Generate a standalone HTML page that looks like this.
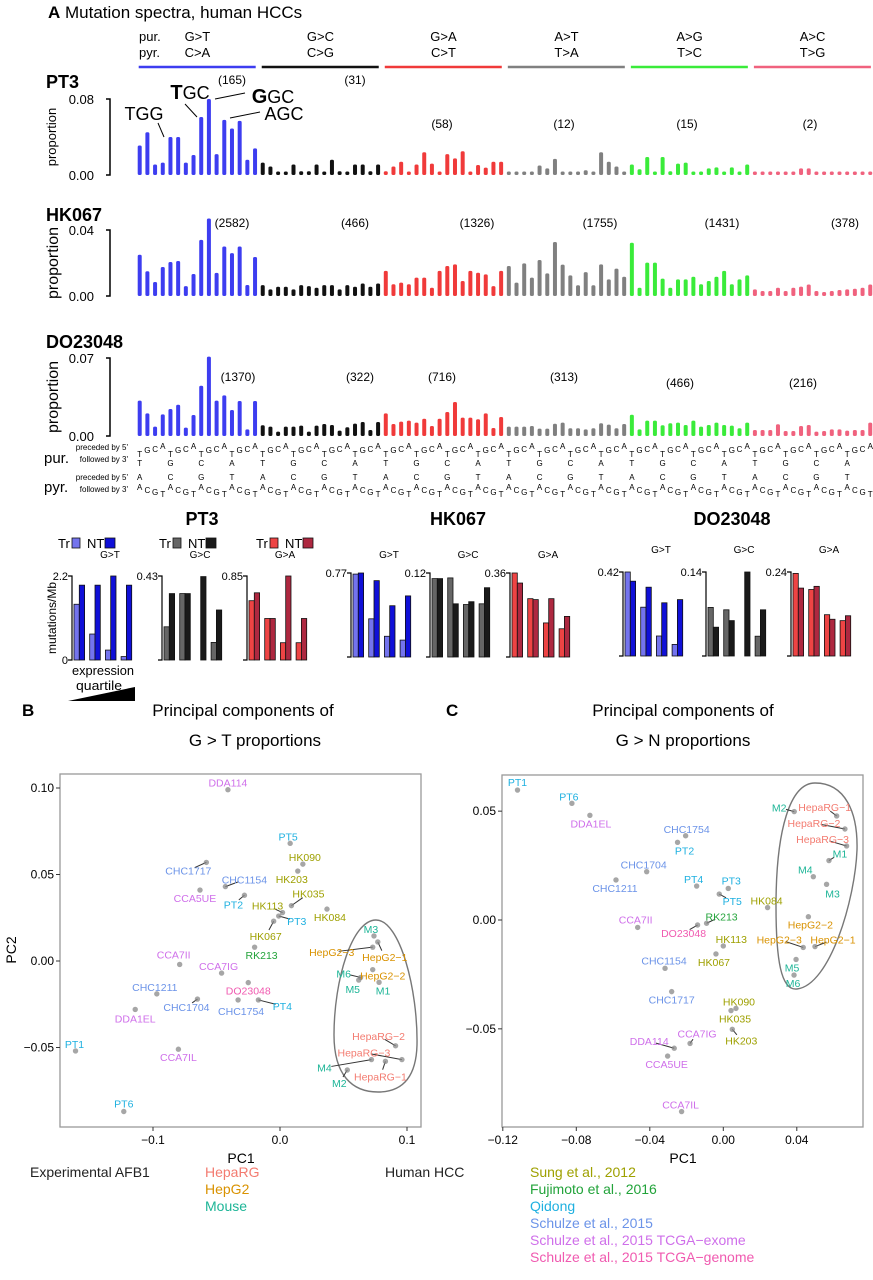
<!DOCTYPE html>
<html><head><meta charset="utf-8">
<style>
html,body{margin:0;padding:0;background:#fff;}
svg{display:block;font-family:"Liberation Sans",sans-serif;}
.n{font-family:"Liberation Sans Narrow","Liberation Sans",sans-serif;}
</style></head>
<body>
<svg id="fig" width="873" height="1280" viewBox="0 0 873 1280" xmlns="http://www.w3.org/2000/svg">
<rect x="0" y="0" width="873" height="1280" fill="#fff"/>
<text x="48" y="18" font-size="17"><tspan font-weight="bold">A</tspan>  Mutation spectra, human HCCs</text>
<text x="139" y="41" font-size="13">pur.</text>
<text x="139" y="57" font-size="13">pyr.</text>
<g id="spec"></g>
<text x="44" y="463" font-size="15" class="n">pur.</text>
<text x="44" y="492" font-size="15" class="n">pyr.</text>
<text x="128" y="450" font-size="8" text-anchor="end" class="n">preceded by 5'</text>
<text x="128" y="462" font-size="8" text-anchor="end" class="n">followed by 3'</text>
<text x="128" y="480" font-size="8" text-anchor="end" class="n">preceded by 5'</text>
<text x="128" y="492" font-size="8" text-anchor="end" class="n">followed by 3'</text>
<g id="strand"></g>
<text transform="translate(56,618) rotate(-90)" font-size="12" text-anchor="middle">mutations/Mb</text>
<text x="72" y="675" font-size="13" textLength="62" lengthAdjust="spacingAndGlyphs">expression</text>
<text x="76" y="690" font-size="13" textLength="46" lengthAdjust="spacingAndGlyphs">quartile</text>
<polygon points="68,701 135,687 135,701" fill="#000"/>
<g id="pca"></g>
<text x="22" y="716" font-size="17" font-weight="bold">B</text>
<text x="243" y="716" font-size="17" text-anchor="middle">Principal components of</text>
<text x="255" y="746" font-size="17" text-anchor="middle">G &gt; T proportions</text>
<text x="446" y="716" font-size="17" font-weight="bold">C</text>
<text x="683" y="716" font-size="17" text-anchor="middle">Principal components of</text>
<text x="683" y="746" font-size="17" text-anchor="middle">G &gt; N proportions</text>
<text x="241" y="1163" font-size="14" text-anchor="middle">PC1</text>
<text x="683" y="1163" font-size="14" text-anchor="middle">PC1</text>
<text transform="translate(16,950) rotate(-90)" font-size="14" text-anchor="middle">PC2</text>
<g font-size="14">
<text x="30" y="1177" fill="#222">Experimental AFB1</text>
<text x="205" y="1177" fill="#F37B70">HepaRG</text>
<text x="205" y="1194" fill="#D99200">HepG2</text>
<text x="205" y="1211" fill="#1DB597">Mouse</text>
<text x="385" y="1177" fill="#222">Human HCC</text>
<text x="530" y="1177" fill="#9EA000">Sung et al., 2012</text>
<text x="530" y="1194" fill="#22A33A">Fujimoto et al., 2016</text>
<text x="530" y="1211" fill="#1EB0E0">Qidong</text>
<text x="530" y="1228" fill="#6B93E8">Schulze et al., 2015</text>
<text x="530" y="1245" fill="#CF6FEA">Schulze et al., 2015 TCGA−exome</text>
<text x="530" y="1262" fill="#F05AB0">Schulze et al., 2015 TCGA−genome</text>
</g>
</svg>
<script>
// ---------- Spectrum data (proportions, 16 contexts per class) ----------
const classLabelsPur = ["G>T","G>C","G>A","A>T","A>G","A>C"];
const classLabelsPyr = ["C>A","C>G","C>T","T>A","T>C","T>G"];
const pt3GT = [0.031,0.045,0.011,0.013,0.040,0.040,0.013,0.021,0.061,0.080,0.022,0.058,0.049,0.057,0.016,0.028];
const pt3GC = [0.013,0.009,0.003,0.003,0.011,0.004,0.004,0.011,0.003,0.016,0.004,0.003,0.011,0.011,0.004,0.011];
const pt3GA = [0.004,0.009,0.014,0.003,0.011,0.024,0.012,0.0035,0.022,0.0175,0.025,0.0035,0.0105,0.0077,0.014,0.014];
const pt3AT = [0.002,0.002,0.002,0.002,0.010,0.007,0.017,0.002,0.002,0.002,0.005,0.002,0.024,0.014,0.009,0.003];
const pt3AG = [0.011,0.006,0.019,0.003,0.019,0.004,0.012,0.013,0.003,0.002,0.007,0.008,0.002,0.008,0.002,0.011];
const pt3AC = [0.002,0.002,0.002,0.002,0.002,0.002,0.007,0.007,0.002,0.002,0.002,0.002,0.002,0.002,0.002,0.002];
const hkGT = [0.025,0.015,0.0085,0.0176,0.0206,0.0212,0.006,0.0133,0.034,0.047,0.014,0.030,0.026,0.030,0.0067,0.0236];
const hkGC = [0.0066,0.004,0.0056,0.0056,0.004,0.0066,0.006,0.005,0.0066,0.0066,0.004,0.0066,0.0056,0.0076,0.0056,0.0076];
const hkGA = [0.0152,0.0071,0.0081,0.0071,0.0111,0.0111,0.005,0.0152,0.0182,0.0192,0.0091,0.0152,0.0141,0.0131,0.006,0.0152];
const hkAT = [0.0182,0.0081,0.0198,0.0111,0.0218,0.0137,0.0327,0.019,0.0125,0.0065,0.0145,0.0065,0.0192,0.0101,0.0166,0.0117];
const hkAG = [0.0323,0.005,0.0202,0.0202,0.0105,0.005,0.0101,0.0101,0.0117,0.0071,0.0091,0.0117,0.0152,0.0071,0.0101,0.0125];
const hkAC = [0.004,0.003,0.003,0.005,0.003,0.005,0.0057,0.007,0.003,0.0024,0.003,0.0036,0.004,0.0044,0.005,0.007];
const doGT = [0.0317,0.0203,0.0084,0.0194,0.0242,0.0281,0.0075,0.0188,0.0451,0.0712,0.0317,0.0365,0.0233,0.0314,0.006,0.0314];
const doGC = [0.0096,0.0084,0.0039,0.0084,0.0084,0.0093,0.0039,0.0093,0.0108,0.0099,0.0048,0.0078,0.0111,0.0126,0.0054,0.0126];
const doGA = [0.0203,0.0108,0.0129,0.0138,0.012,0.0155,0.009,0.0155,0.0215,0.0305,0.0165,0.0165,0.015,0.0203,0.0072,0.017];
const doAT = [0.0084,0.0084,0.0084,0.009,0.0066,0.0066,0.011,0.012,0.0069,0.0069,0.006,0.0069,0.0114,0.0102,0.0069,0.0108];
const doAG = [0.0191,0.006,0.0138,0.0138,0.0096,0.0114,0.012,0.0099,0.0138,0.0084,0.0099,0.012,0.0099,0.0093,0.0069,0.012];
const doAC = [0.0054,0.0054,0.0054,0.0105,0.0045,0.0045,0.009,0.0099,0.0039,0.0045,0.006,0.006,0.0048,0.0054,0.0054,0.012];
const pt3Counts = ["(165)","(31)","(58)","(12)","(15)","(2)"];
const hkCounts = ["(2582)","(466)","(1326)","(1755)","(1431)","(378)"];
const doCounts = ["(1370)","(322)","(716)","(313)","(466)","(216)"];

// ---------- Strand bar data (Tr / NT by expression quartile) ----------
const pt3GTtr=[1.46,0.68,0.26,0.09], pt3GTnt=[1.96,1.96,2.2,1.96];
const pt3GCtr=[0.17,0.34,0,0.09], pt3GCnt=[0.34,0.34,0.427,0.256];
const pt3GAtr=[0.60,0.42,0.175,0.175], pt3GAnt=[0.68,0.42,0.85,0.42];
const hkGTtr=[0.76,0.35,0.19,0.155], hkGTnt=[0.77,0.70,0.47,0.56];
const hkGCtr=[0.112,0.113,0.075,0.076], hkGCnt=[0.112,0.076,0.079,0.099];
const hkGAtr=[0.36,0.25,0.146,0.121], hkGAnt=[0.317,0.246,0.25,0.174];
const doGTtr=[0.42,0.244,0.10,0.058], doGTnt=[0.374,0.344,0.266,0.282];
const doGCtr=[0.081,0.077,0,0.033], doGCnt=[0.048,0.059,0.14,0.077];
const doGAtr=[0.236,0.19,0.118,0.101], doGAnt=[0.194,0.199,0.105,0.115];

// ---------- PCA data ----------
const bNames=["DDA114","PT5","HK090","HK203","CHC1717","CHC1154","CCA5UE","PT2","HK035","HK084","HK113","PT3","HK067","RK213","CCA7II","CCA7IG","DO23048","CHC1211","CHC1704","CHC1754","PT4","DDA1EL","PT1","CCA7IL","PT6","M3","HepG2−1","HepG2−3","M6","HepG2−2","M5","M1","HepaRG−2","HepaRG−3","M4","HepaRG−1","M2"];
const bPC1=[-0.041,0.008,0.018,0.014,-0.058,-0.043,-0.063,-0.028,0.009,0.037,0.002,-0.001,-0.005,-0.020,-0.079,-0.046,-0.025,-0.097,-0.065,-0.033,-0.017,-0.114,-0.161,-0.080,-0.123,0.074,0.077,0.073,0.0635,0.073,0.062,0.078,0.091,0.096,0.072,0.083,0.053];
const bPC2=[0.099,0.068,0.056,0.052,0.057,0.043,0.041,0.038,0.032,0.030,0.028,0.026,0.023,0.008,-0.002,-0.007,-0.0125,-0.019,-0.022,-0.0225,-0.0225,-0.028,-0.052,-0.051,-0.087,0.0145,0.011,0.008,-0.0095,-0.005,-0.011,-0.0123,-0.049,-0.057,-0.057,-0.058,-0.063];
const bGroup=["ex","qd","su","su","sc","sc","ex","qd","su","su","su","qd","su","fu","ex","ex","ge","sc","sc","sc","qd","ex","qd","ex","qd","mo","g2","g2","mo","g2","mo","mo","rg","rg","mo","rg","mo"];
const bLdx=[0,-2,2,-6,-18,19,-5,-11,17,3,-15,18,-8,7,-6,-3,0,-2,-11,3,24,0,-1,0,0,-3,7,-41,-17,10,-6,4,-17,-38,-47,-5,-8];
const bLdy=[-7,-7,-7,8,8,-7,8,9,-12,8,-7,5,15,8,-10,-7,8,-7,8,11,6,9,-7,8,-8,-7,15,5,-4,6,9,8,-10,-7,8,15,13];

const cNames=["PT1","PT6","DDA1EL","CHC1754","PT2","CHC1704","CHC1211","PT4","PT3","PT5","HK084","CCA7II","DO23048","RK213","HK113","HK067","CHC1154","CHC1717","HK090","HK035","HK203","CCA7IG","DDA114","CCA5UE","CCA7IL","M2","HepaRG−1","HepaRG−2","HepaRG−3","M1","M4","M3","HepG2−2","HepG2−3","HepG2−1","M5","M6"];
const cPC1=[-0.112,-0.0824,-0.0726,-0.0205,-0.0249,-0.0417,-0.0584,-0.0145,0.0027,-0.0022,0.0241,-0.0466,-0.014,-0.0091,0.0,-0.004,-0.0317,-0.0281,0.0069,0.0042,0.0049,-0.0181,-0.0267,-0.0303,-0.0227,0.0386,0.0617,0.0662,0.0671,0.0575,0.049,0.0562,0.0463,0.0435,0.0499,0.0396,0.0385];
const cPC2=[0.0597,0.0536,0.0481,0.0387,0.0357,0.0222,0.0184,0.0156,0.0145,0.0119,0.0057,-0.0034,-0.0023,-0.0015,-0.0119,-0.0156,-0.0222,-0.0329,-0.0406,-0.0416,-0.0502,-0.0567,-0.0589,-0.0625,-0.088,0.0498,0.0478,0.0418,0.034,0.0273,0.0199,0.0164,0.0015,-0.0126,-0.0122,-0.0181,-0.0253];
const cGroup=["qd","qd","ex","sc","qd","sc","sc","qd","qd","qd","su","ex","ge","fu","su","su","sc","sc","su","su","su","ex","ex","ex","ex","mo","rg","rg","rg","mo","mo","mo","g2","g2","g2","mo","mo"];
const cLdx=[0,-3,1,1,7,-3,-1,-3,3,13,-1,-2,-14,15,8,-2,-1,0,3,4,9,7,-25,-1,-1,-15,-12,-31,-24,11,-8,6,2,-24,18,-4,-1];
const cLdy=[-8,-7,8,-7,8,-7,8,-7,-8,7,-7,-8,8,-7,-7,8,-8,8,-7,8,11,-10,-7,8,-7,-4,-9,-6,-7,-7,-7,9,8,-8,-7,8,8];
const bXTicks=[-0.1,0.0,0.1], bXTickLabels=["-0.1","0.0","0.1"];
const bYTicks=[0.10,0.05,0.00,-0.05], bYTickLabels=["0.10","0.05","0.00","-0.05"];
const cXTicks=[-0.12,-0.08,-0.04,0.00,0.04], cXTickLabels=["-0.12","-0.08","-0.04","0.00","0.04"];
const cYTicks=[0.05,0.00,-0.05], cYTickLabels=["0.05","0.00","-0.05"];

const NS='http://www.w3.org/2000/svg';
const svg=document.getElementById('fig');
function mk(tag,attrs,parent){const e=document.createElementNS(NS,tag);for(const k in attrs)e.setAttribute(k,attrs[k]);(parent||svg).appendChild(e);return e;}
function txt(str,attrs,parent){const e=mk('text',attrs,parent);e.textContent=str;return e;}

const classColors=["#3D3DF0","#111111","#F03A3A","#808080","#3AEB3A","#F0627E"];
const x0=139.7, pitch=7.69;
const barX = i => x0 + i*pitch;

for(let g=0;g<6;g++){
  const cx=barX(g*16)+57.7;
  const t1=txt(classLabelsPur[g],{x:cx,y:41,'font-size':13,'text-anchor':'middle'});
  
  
  const t2=txt(classLabelsPyr[g],{x:cx,y:57,'font-size':13,'text-anchor':'middle'});
  
  
  const l=mk('line',{x1:barX(g*16)-1,x2:barX(g*16)+116,y1:67,y2:67,stroke:classColors[g],'stroke-width':2.5});
  
  
}

function spectrum(name,label,labelY,groups,counts,countY,max,maxLabel,topY,baseY,propSize){
  const ys=v=>baseY-(v/max)*(baseY-topY);
  const n=txt(label,{x:46,y:labelY,'font-size':18,'font-weight':'bold'});
  
  
  const ax=mk('path',{d:`M106 ${topY}H110V${baseY}H106`,fill:'none',stroke:'#000','stroke-width':1.5});
  
  
  const t1=txt(maxLabel,{x:94,y:topY+5,'font-size':13,'text-anchor':'end'});
  
  
  const t0=txt("0.00",{x:94,y:baseY+5,'font-size':13,'text-anchor':'end'});
  
  
  const yt=txt("proportion",{transform:`translate(${propSize<14?56:58},${(topY+baseY)/2}) rotate(-90)`,'font-size':propSize,'text-anchor':'middle'});
  
  
  groups.forEach((arr,g)=>{
    arr.forEach((v,j)=>{
      const i=g*16+j;
      let h=baseY-ys(v); if(h<3.5)h=3.5;
      const r=mk('rect',{x:barX(i)-2,y:baseY-h,width:4,height:h,rx:1.6,fill:classColors[g]});
      
      
    });
  });
  counts.forEach((c,g)=>{
    const t=txt(c,{x:countY[g][0],y:countY[g][1],'font-size':12,'text-anchor':'middle'});
    
    
  });
}
spectrum('pt3','PT3',88,[pt3GT,pt3GC,pt3GA,pt3AT,pt3AG,pt3AC],pt3Counts,
  [[232,84],[355,84],[442,128],[564,128],[687,128],[810,128]],0.08,"0.08",99,175,13);
spectrum('hk067','HK067',221,[hkGT,hkGC,hkGA,hkAT,hkAG,hkAC],hkCounts,
  [[232,227],[355,227],[477,227],[600,227],[722,227],[845,227]],0.04,"0.04",230,296,16);
spectrum('do23048','DO23048',348,[doGT,doGC,doGA,doAT,doAG,doAC],doCounts,
  [[238,381],[360,381],[442,381],[564,381],[680,387],[803,387]],0.07,"0.07",358,436,16);

[["TGG",144,114,false],["GC",190,93,true,"T"],["GC",273,97,true,"G"],["AGC",284,114,false]].forEach(a=>{
  const t=txt('',{x:a[1],y:a[2]+6,'font-size':18,'text-anchor':'middle'});
  if(a[3]){const b=mk('tspan',{'font-weight':'bold','font-size':20},t);b.textContent=a[4];const r=mk('tspan',{},t);r.textContent=a[0];}
  else t.textContent=a[0];
  
  
});
[[158,123,164,137],[185,104,197,117],[215,99,245,93],[230,118,260,112]].forEach(l=>{
  const e=mk('line',{x1:l[0],y1:l[1],x2:l[2],y2:l[3],stroke:'#000','stroke-width':1});
  
  
});

const purSeq="TGCA", pyrSeq="ACGT";
const purY=[457,453,452,449], pyrY=[490,493,495,497];
for(let g=0;g<6;g++)for(let s=0;s<4;s++)for(let j=0;j<4;j++){
  const i=g*16+s*4+j, cx=barX(i);
  const a=txt(purSeq[j],{x:cx,y:purY[j],'font-size':8,'text-anchor':'middle'});
  
  
  const b=txt(pyrSeq[j],{x:cx,y:pyrY[j],'font-size':8,'text-anchor':'middle'});
  
  
  if(j===0){
    const c=txt(purSeq[s],{x:cx,y:466,'font-size':8,'text-anchor':'middle'});
    
    
    const d=txt(pyrSeq[s],{x:cx,y:480,'font-size':8,'text-anchor':'middle'});
    
    
  }
}

function strandChart(name,ax,topY,baseY,max,maxLabel,tr,nt,cTr,cNt,label,labelY,zero){
  const ys=v=>(v/max)*(baseY-topY);
  const a=mk('path',{d:`M${ax-4} ${topY}H${ax}V${baseY}H${ax-4}`,fill:'none',stroke:'#000','stroke-width':1.2});
  
  
  const t=txt(maxLabel,{x:ax-4,y:topY+4,'font-size':11,'text-anchor':'end',class:'n'});
  
  
  if(zero){const z=txt("0",{x:ax-4,y:baseY+4,'font-size':11,'text-anchor':'end',class:'n'});
    
    }
  const l=txt(label,{x:ax+38,y:labelY,'font-size':10,'text-anchor':'middle',class:'n'});
  
  
  for(let q=0;q<4;q++){
    const bx=ax+2+q*15.7;
    const h1=ys(tr[q]), h2=ys(nt[q]);
    if(h1>0.5){const r=mk('rect',{x:bx,y:baseY-h1,width:5.3,height:h1,fill:cTr,stroke:'#111','stroke-width':0.8});
      
      }
    const r2=mk('rect',{x:bx+5.3,y:baseY-h2,width:5.3,height:h2,fill:cNt,stroke:'#111','stroke-width':0.8});
    
    
  }
}
const BL=["#7474EE","#1010D8"], GY=["#666666","#1A1A1A"], RD=["#EE4444","#AE2840"];
strandChart('pt3-gt',72,576,660,2.2,"2.2",pt3GTtr,pt3GTnt,BL[0],BL[1],"G>T",558,true);
strandChart('pt3-gc',162,576,660,0.43,"0.43",pt3GCtr,pt3GCnt,GY[0],GY[1],"G>C",558,false);
strandChart('pt3-ga',247,576,660,0.85,"0.85",pt3GAtr,pt3GAnt,RD[0],RD[1],"G>A",558,false);
strandChart('hk-gt',351,573,657,0.77,"0.77",hkGTtr,hkGTnt,BL[0],BL[1],"G>T",558,false);
strandChart('hk-gc',430,573,657,0.12,"0.12",hkGCtr,hkGCnt,GY[0],GY[1],"G>C",558,false);
strandChart('hk-ga',510,573,657,0.36,"0.36",hkGAtr,hkGAnt,RD[0],RD[1],"G>A",558,false);
strandChart('do-gt',623,572,656,0.42,"0.42",doGTtr,doGTnt,BL[0],BL[1],"G>T",553,false);
strandChart('do-gc',706,572,656,0.14,"0.14",doGCtr,doGCnt,GY[0],GY[1],"G>C",553,false);
strandChart('do-ga',791,572,656,0.24,"0.24",doGAtr,doGAnt,RD[0],RD[1],"G>A",553,false);
[["PT3",202],["HK067",458],["DO23048",732]].forEach(p=>{
  const t=txt(p[0],{x:p[1],y:525,'font-size':18,'font-weight':'bold','text-anchor':'middle'});
  
  
});
[[58,BL],[159,GY],[256,RD]].forEach(L=>{
  const x=L[0];
  const a=txt("Tr",{x:x,y:548,'font-size':13,class:'n'});
  
  
  const b=mk('rect',{x:x+14,y:538,width:8,height:10,fill:L[1][0],stroke:'#111','stroke-width':0.8});
  
  
  const c=txt("NT",{x:x+29,y:548,'font-size':13,class:'n'});
  
  
  const d=mk('rect',{x:x+47,y:538,width:10,height:10,fill:L[1][1],stroke:'#111','stroke-width':0.8});
  
  
});

const groupColors={su:"#9EA000",fu:"#22A33A",qd:"#1EB0E0",sc:"#6B93E8",ex:"#CF6FEA",ge:"#F05AB0",rg:"#F37B70",g2:"#D99200",mo:"#1DB597"};
function pca(name,box,xs,ys,names,p1,p2,grp,ldx,ldy,xt,xtl,yt,ytl,ellipse){
  const r=mk('rect',{x:box[0],y:box[1],width:box[2]-box[0],height:box[3]-box[1],fill:'none',stroke:'#999','stroke-width':1.3});
  
  
  xt.forEach((v,k)=>{
    const l=mk('line',{x1:xs(v),x2:xs(v),y1:box[3],y2:box[3]+4,stroke:'#333'});
    
    
    const t=txt(xtl[k].replace('-','−'),{x:xs(v),y:box[3]+17,'font-size':12,'text-anchor':'middle'});
    
    
  });
  yt.forEach((v,k)=>{
    const l=mk('line',{x1:box[0]-4,x2:box[0],y1:ys(v),y2:ys(v),stroke:'#333'});
    
    
    const t=txt(ytl[k].replace('-','−'),{x:box[0]-6,y:ys(v)+4,'font-size':12,'text-anchor':'end'});
    
    
  });
  const el=mk('path',{d:ellipse,fill:'none',stroke:'#777','stroke-width':1.4});
  
  
  names.forEach((nm,k)=>{
    const px=xs(p1[k]), py=ys(p2[k]);
    const dx=ldx[k], dy=ldy[k], d=Math.hypot(dx,dy);
    if(d>12){
      const f=(d-7)/d;
      const l=mk('line',{x1:px,y1:py,x2:px+dx*f,y2:py+dy*f,stroke:'#333','stroke-width':1});
      
      
    }
    const c=mk('circle',{cx:px,cy:py,r:2.7,fill:'#888','fill-opacity':0.75});
    
    
    const t=txt(nm,{x:px+dx,y:py+dy+4,'font-size':10.5,'text-anchor':'middle',fill:groupColors[grp[k]]});
    
    
  });
}
const xB=v=>280+v*1270, yB=v=>961-v*1730;
const xC=v=>723.3+v*1837.5, yC=v=>920-v*2177;
pca('pca-b',[60,774,421,1127],xB,yB,bNames,bPC1,bPC2,bGroup,bLdx,bLdy,bXTicks,bXTickLabels,bYTicks,bYTickLabels,
  "M376 920C400 920 418 990 417 1045C416 1082 398 1092 378 1092C352 1092 334 1075 334 1035C334 980 352 920 376 920Z");
pca('pca-c',[502,775,863,1127],xC,yC,cNames,cPC1,cPC2,cGroup,cLdx,cLdy,cXTicks,cXTickLabels,cYTicks,cYTickLabels,
  "M815 783C845 783 858 812 857 850C855 900 830 985 797 989C781 991 776 960 776 906C776 830 790 783 815 783Z");
</script>
</body></html>
